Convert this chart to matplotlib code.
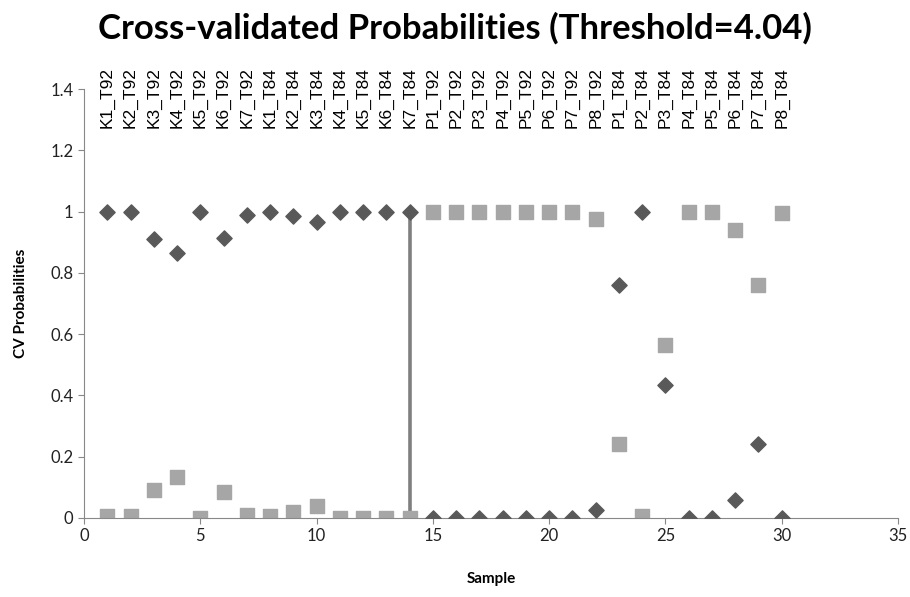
import numpy as np
import matplotlib
matplotlib.use("Agg")
import matplotlib.pyplot as plt

samples = list(range(1, 31))
labels = ["K1_T92", "K2_T92", "K3_T92", "K4_T92", "K5_T92", "K6_T92", "K7_T92",
          "K1_T84", "K2_T84", "K3_T84", "K4_T84", "K5_T84", "K6_T84", "K7_T84",
          "P1_T92", "P2_T92", "P3_T92", "P4_T92", "P5_T92", "P6_T92", "P7_T92", "P8_T92",
          "P1_T84", "P2_T84", "P3_T84", "P4_T84", "P5_T84", "P6_T84", "P7_T84", "P8_T84"]
prob_k = [1.0, 1.0, 0.91, 0.865, 1.0, 0.915, 0.99, 1.0, 0.985, 0.965, 1.0, 1.0, 1.0, 1.0,
          0, 0, 0, 0, 0, 0, 0, 0.025, 0.76, 1.0, 0.435, 0, 0, 0.06, 0.24, 0.0]
prob_p = [0.005, 0.005, 0.09, 0.135, 0.0, 0.085, 0.01, 0.005, 0.02, 0.04, 0, 0, 0, 0,
          1.0, 1.0, 1.0, 1.0, 1.0, 1.0, 1.0, 0.975, 0.24, 0.005, 0.565, 1.0, 1.0, 0.94, 0.76, 0.995]
split_x = 14

plt.rcParams['font.family'] = ['Lato', 'DejaVu Sans']

fig = plt.figure(figsize=(9.1, 5.97), dpi=100)
ax = fig.add_axes([84 / 910, 1 - 518 / 597, (898 - 84) / 910, (518 - 89) / 597])

ax.plot([split_x, split_x], [0, 1], color='#7f7f7f', lw=2.6, zorder=1)
ax.scatter(samples, prob_p, marker='s', s=110, color='#a6a6a6', zorder=2)
ax.scatter(samples, prob_k, marker='D', s=60, color='#595959', zorder=3)

for x, lab in zip(samples, labels):
    ax.text(x, 1.272, lab, rotation=90, ha='center', va='bottom', fontsize=12.5,
            family='Liberation Sans', clip_on=False)

ax.set_xlim(0, 35)
ax.set_ylim(0, 1.4)
ax.set_xticks(range(0, 36, 5))
ax.set_yticks(np.arange(0, 1.41, 0.2))
ax.set_yticklabels(["0", "0.2", "0.4", "0.6", "0.8", "1", "1.2", "1.4"])
for s in ['top', 'right']:
    ax.spines[s].set_visible(False)
ax.spines['left'].set_color('#888888')
ax.spines['bottom'].set_color('#888888')
ax.tick_params(axis='both', colors='#888888', labelcolor='#222222', labelsize=12, length=4)
ax.set_xlabel('Sample', fontsize=11, fontweight='bold', labelpad=20)
ax.set_ylabel('CV Probabilities', fontsize=11, fontweight='bold', labelpad=16)
fig.text(0.5, 0.952, 'Cross-validated Probabilities (Threshold=4.04)', ha='center', va='center',
         fontsize=25, fontweight='bold')

fig.savefig('out.png', dpi=100)
